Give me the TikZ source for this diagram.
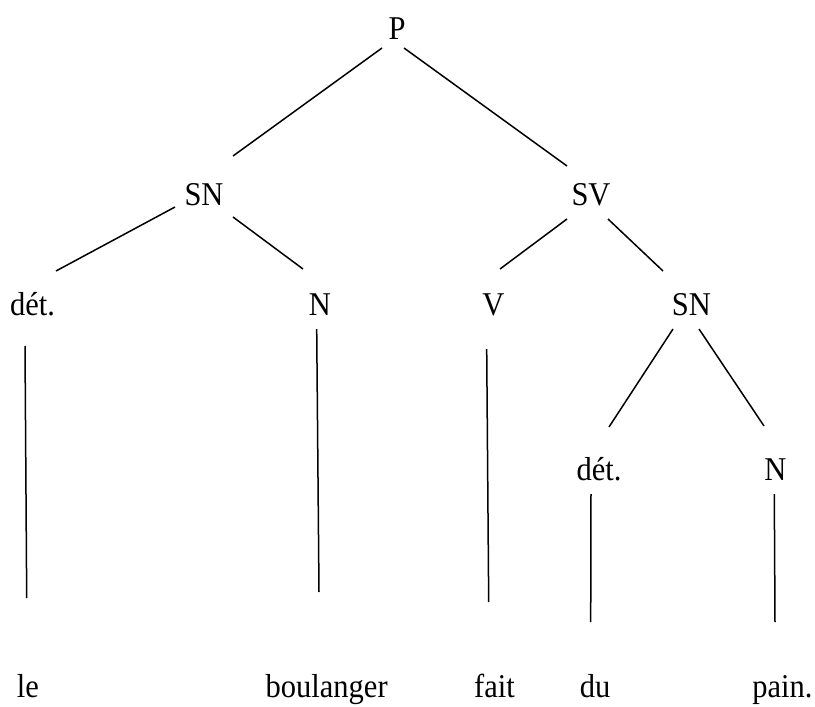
\documentclass[tikz,border=0pt]{standalone}
\usepackage{fontspec}
\usepackage{graphicx}
\setmainfont{Liberation Serif}
% labels are set slightly taller than wide
\newcommand{\tallword}[1]{\scalebox{1}[1.09]{#1}}
\begin{document}
\begin{tikzpicture}[x=1pt,y=-1pt,
  lbl/.style={anchor=base,inner sep=0pt,font=\fontsize{30.5}{36}\selectfont},
  branch/.style={line width=1.5pt,line cap=butt}]
\useasboundingbox (0,0) rectangle (815,707);

% categories
\node[lbl] (P)   at (397,39)   {\tallword{P}};
\node[lbl] (SNa) at (204,205)  {\tallword{SN}};
\node[lbl] (SV)  at (591,205)  {\tallword{SV}};
\node[lbl] (Da)  at (32.5,315) {\tallword{dét.}};
\node[lbl] (Na)  at (320,315)  {\tallword{N}};
\node[lbl] (V)   at (493.3,315){\tallword{V}};
\node[lbl] (SNb) at (691.3,315){\tallword{SN}};
\node[lbl] (Db)  at (599,480)  {\tallword{dét.}};
\node[lbl] (Nb)  at (775.5,480){\tallword{N}};

% words
\node[lbl] (le)   at (28,697)    {\tallword{le}};
\node[lbl] (boul) at (326.7,697) {\tallword{boulanger}};
\node[lbl] (fait) at (494.5,697) {\tallword{fait}};
\node[lbl] (du)   at (595,697)   {\tallword{du}};
\node[lbl] (pain) at (782.5,697) {\tallword{pain.}};

% branches
\draw[branch] ([shift={(-15,9)}]P.base)    -- ([shift={(29,-49)}]SNa.base);
\draw[branch] ([shift={(7,9)}]P.base)      -- ([shift={(-24,-39)}]SV.base);
\draw[branch] ([shift={(-29,2)}]SNa.base)  -- ([shift={(23.5,-44)}]Da.base);
\draw[branch] ([shift={(29,12)}]SNa.base)  -- ([shift={(-17,-46)}]Na.base);
\draw[branch] ([shift={(-24,14)}]SV.base)  -- ([shift={(6.7,-46)}]V.base);
\draw[branch] ([shift={(17,14)}]SV.base)   -- ([shift={(-28.3,-44)}]SNb.base);
\draw[branch] ([shift={(-18.3,14)}]SNb.base) -- ([shift={(10,-53)}]Db.base);
\draw[branch] ([shift={(7.7,14)}]SNb.base) -- ([shift={(-11.5,-54)}]Nb.base);

% lexical branches
\draw[branch] ([shift={(-7.5,31)}]Da.base) -- ([shift={(-1.3,-99)}]le.base);
\draw[branch] ([shift={(-3.3,14)}]Na.base) -- ([shift={(-7.7,-105)}]boul.base);
\draw[branch] ([shift={(-6.6,34)}]V.base)  -- ([shift={(-5.8,-95)}]fait.base);
\draw[branch] ([shift={(-8,14)}]Db.base)   -- ([shift={(-4.3,-75)}]du.base);
\draw[branch] ([shift={(-1.2,14)}]Nb.base) -- ([shift={(-7.5,-75)}]pain.base);
\end{tikzpicture}
\end{document}
